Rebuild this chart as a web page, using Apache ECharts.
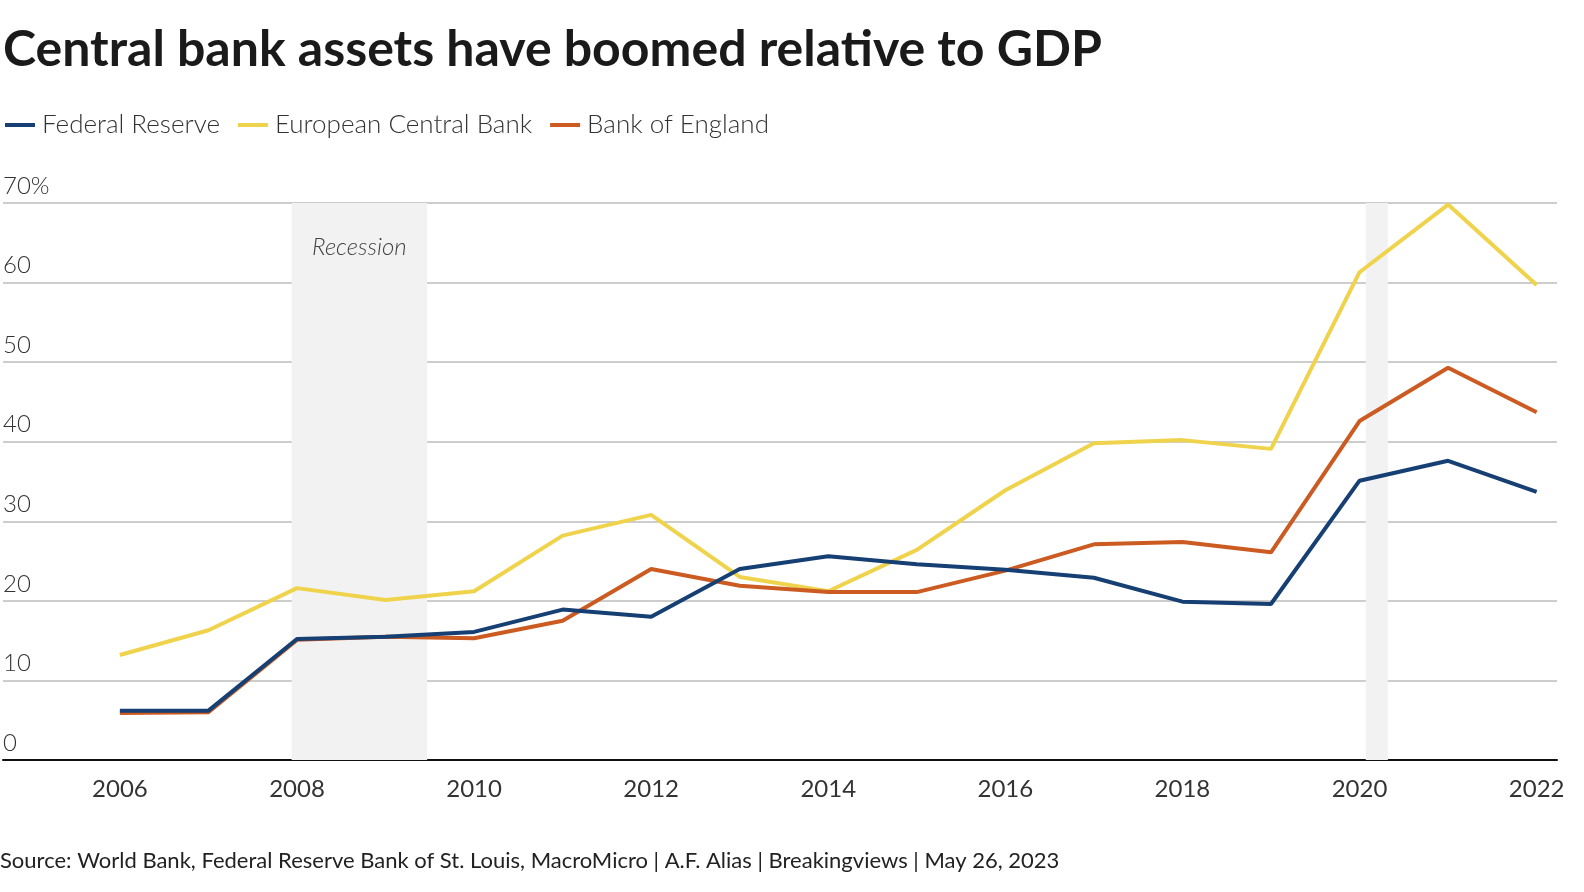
<!DOCTYPE html>
<html><head><meta charset="utf-8">
<script src="https://cdn.jsdelivr.net/npm/echarts@6/dist/echarts.min.js"></script>
<style>html,body{margin:0;padding:0;background:#fff;overflow:hidden}#c{width:100vw;height:100vh}</style>
</head><body><div id="c"></div>
<script>
const years = [2006,2007,2008,2009,2010,2011,2012,2013,2014,2015,2016,2017,2018,2019,2020,2021,2022];
const fed = [6.2,6.2,15.2,15.5,16.1,18.9,18.0,24.0,25.6,24.6,23.9,22.9,19.9,19.6,35.1,37.6,33.7];
const ecb = [13.2,16.3,21.6,20.1,21.2,28.2,30.8,23.0,21.2,26.4,33.9,39.8,40.2,39.1,61.3,69.8,59.7];
const boe = [5.9,6.0,15.1,15.5,15.3,17.5,24.0,21.9,21.1,21.1,23.8,27.1,27.4,26.1,42.6,49.3,43.7];
const xTicks = [2006,2008,2010,2012,2014,2016,2018,2020,2022];
const recessions = [[2007.94, 2009.47, 'Recession'], [2020.07, 2020.32, '']];
const seriesNames = ['Federal Reserve','European Central Bank','Bank of England'];
const colors = ['#163f73','#f0d34c','#cc5b22'];
const font = 'Lato';

const pair = (xs, ys) => xs.map((x, i) => [x, ys[i]]);
const chart = echarts.init(document.getElementById('c'), null, {renderer: 'canvas'});
chart.setOption({
  animation: false,
  backgroundColor: '#fff',
  textStyle: {fontFamily: font},
  title: {
    text: 'Central bank assets have boomed relative to GDP',
    left: -2, top: 20,
    textStyle: {fontFamily: font, fontSize: 50, fontWeight: 'bold', color: '#1a1a1a'}
  },
  legend: {
    left: 0, top: 107,
    itemWidth: 30, itemHeight: 4, itemGap: 18,
    icon: 'rect',
    textStyle: {fontFamily: font, fontSize: 26, fontWeight: 300, color: '#333', padding: [0,0,0,2]},
    data: seriesNames
  },
  graphic: [{
    type: 'text', left: 0, top: 850,
    style: {text: 'Source: World Bank, Federal Reserve Bank of St. Louis, MacroMicro | A.F. Alias | Breakingviews | May 26, 2023',
      font: '22px ' + font, fill: '#222'}
  }],
  grid: {left: 0, right: 27, top: 203, bottom: 132, containLabel: false},
  xAxis: {
    type: 'value', min: 2004.68, max: 2022.23,
    axisLine: {show: true, lineStyle: {color: '#111', width: 2}},
    axisTick: {show: false},
    splitLine: {show: false},
    axisLabel: {customValues: xTicks, fontSize: 24, color: '#333', margin: 17, fontFamily: font,
      formatter: v => String(v)}
  },
  yAxis: {
    type: 'value', min: 0, max: 70, interval: 10,
    axisLine: {show: false}, axisTick: {show: false},
    splitLine: {lineStyle: {color: '#bdbdbd', width: 1.5}},
    axisLabel: {inside: true, margin: 0, verticalAlign: 'bottom', align: 'left', padding: [0,0,5,0],
      fontSize: 24, fontWeight: 300, color: '#333', fontFamily: font,
      formatter: v => v === 70 ? '70%' : String(v)}
  },
  series: [
    {name: seriesNames[0], type: 'line', data: pair(years, fed), symbol: 'none', z: 5,
      lineStyle: {color: colors[0], width: 4}, itemStyle: {color: colors[0]},
      markArea: {silent: true, itemStyle: {color: '#f2f2f2'},
        label: {position: 'insideTop', distance: 32, fontStyle: 'italic', fontSize: 24, color: '#444', fontFamily: font, fontWeight: 300},
        data: recessions.map(r => [{xAxis: r[0], name: r[2]}, {xAxis: r[1]}])}},
    {name: seriesNames[1], type: 'line', data: pair(years, ecb), symbol: 'none', z: 3,
      lineStyle: {color: colors[1], width: 4}, itemStyle: {color: colors[1]}},
    {name: seriesNames[2], type: 'line', data: pair(years, boe), symbol: 'none', z: 4,
      lineStyle: {color: colors[2], width: 4}, itemStyle: {color: colors[2]}}
  ]
});
</script></body></html>
